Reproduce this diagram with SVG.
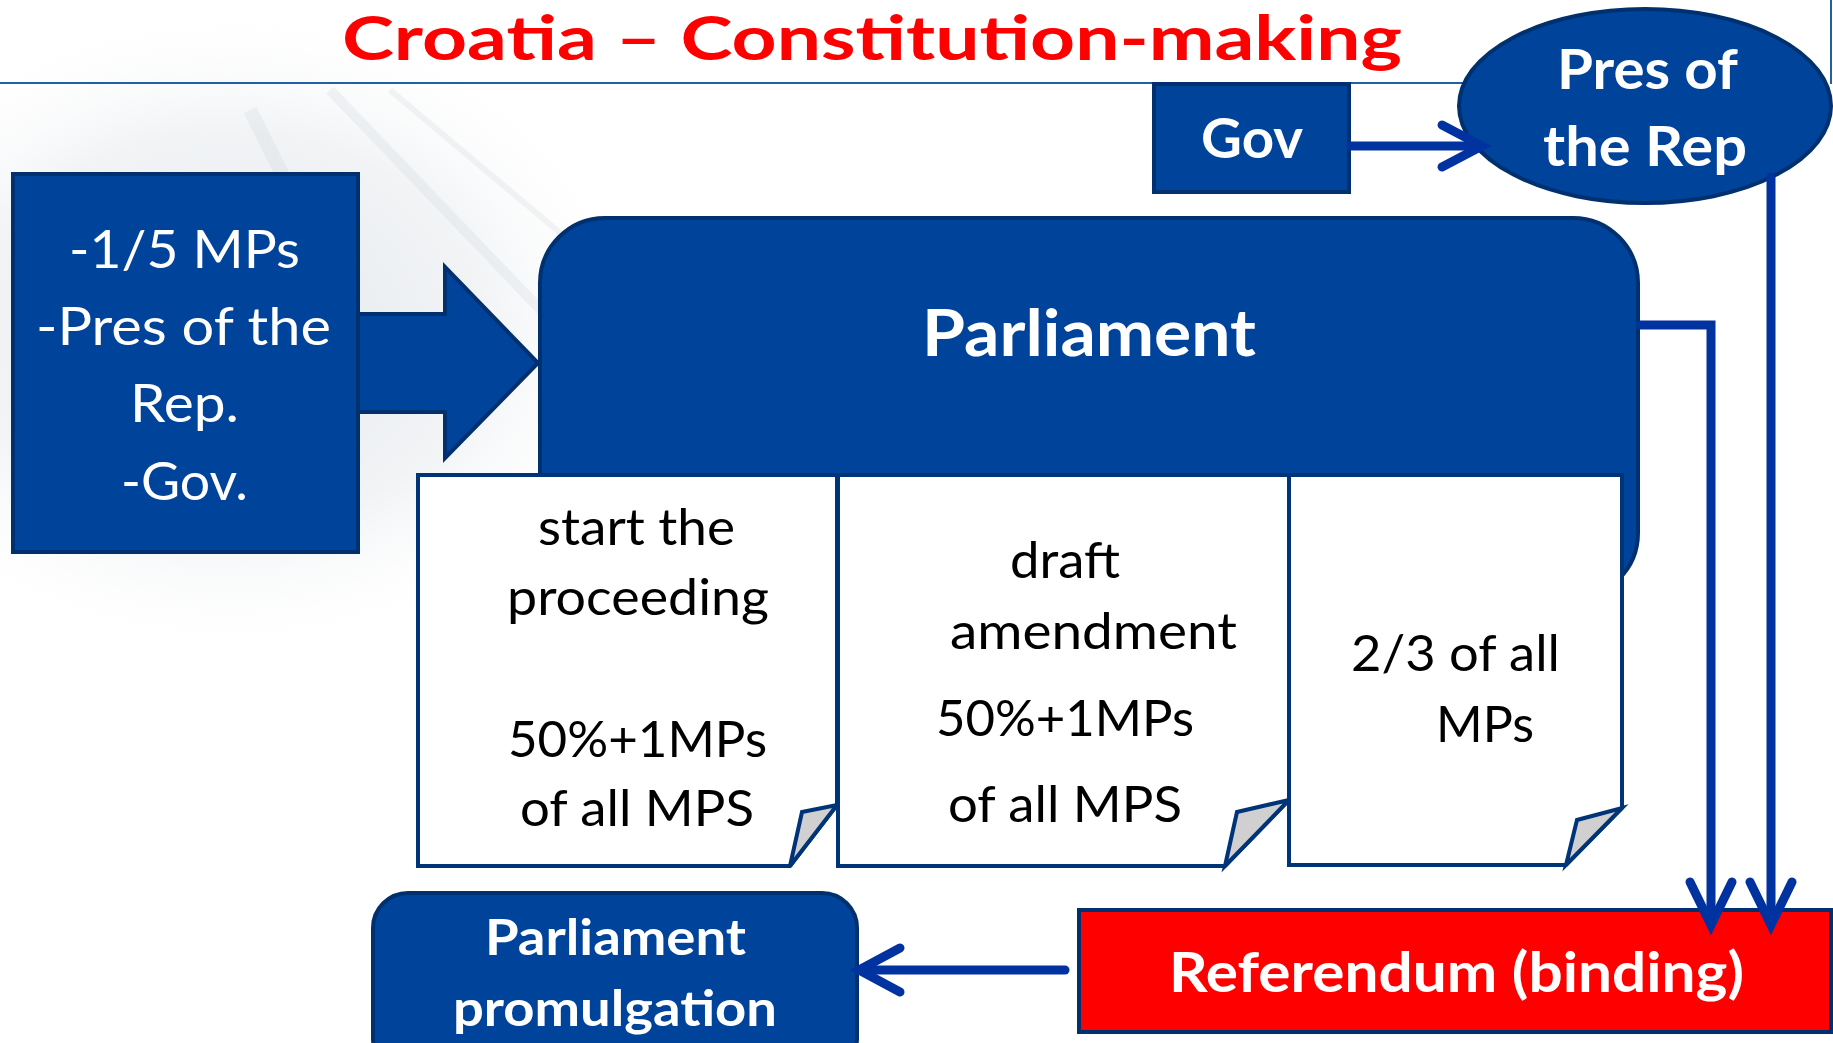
<svg xmlns="http://www.w3.org/2000/svg" width="1833" height="1043" viewBox="0 0 1833 1043">
<defs>
<radialGradient id="bg" cx="0.5" cy="0.5" r="0.5">
<stop offset="0" stop-color="#e6eaee"/>
<stop offset="0.6" stop-color="#f1f3f5"/>
<stop offset="1" stop-color="#ffffff" stop-opacity="0"/>
</radialGradient>
</defs>
<style>
.blue{fill:#00439a;stroke:#00306e;stroke-width:4}
.card{fill:#ffffff;stroke:#003478;stroke-width:4;stroke-linejoin:miter}
.fold{fill:#d0d0d0;stroke:#003478;stroke-width:4;stroke-linejoin:miter}
.conn{fill:none;stroke:#0033a0;stroke-width:9;stroke-linecap:round;stroke-linejoin:miter}
.w{fill:#ffffff;font-family:Lato,"Open Sans",sans-serif;text-anchor:start}
.k{fill:#000000;font-family:Lato,"Open Sans",sans-serif;text-anchor:start}
.b{font-weight:bold}
</style>
<rect x="0" y="0" width="1833" height="1043" fill="#ffffff"/>
<ellipse cx="230" cy="330" rx="420" ry="330" fill="url(#bg)"/>
<g opacity="0.22" stroke="#c8d0d8" fill="none">
<path d="M330,90 L560,330" stroke-width="10"/>
<path d="M390,90 L640,300" stroke-width="6"/>
<path d="M250,110 L360,330" stroke-width="14"/>
</g>
<g id="title">
<text class="b" x="342" y="60" font-size="62" fill="#ff0000" font-family="Lato,'Open Sans',sans-serif" textLength="1060" lengthAdjust="spacingAndGlyphs">Croatia – Constitution-making</text>
<line x1="0" y1="83" x2="1470" y2="83" stroke="#2060a8" stroke-width="2"/>
<line x1="1831" y1="0" x2="1831" y2="84" stroke="#2060a8" stroke-width="2"/>
</g>
<g id="initiators">
<polygon class="blue" points="350,314 445,314 445,267 538,363 445,458 445,412 350,412" stroke-width="3"/>
<rect class="blue" x="13" y="174" width="345" height="378" stroke-width="3"/>
<text class="w" font-size="53" x="69" y="268" textLength="231" lengthAdjust="spacingAndGlyphs">-1/5 MPs</text>
<text class="w" font-size="53" x="36" y="345" textLength="295" lengthAdjust="spacingAndGlyphs">-Pres of the</text>
<text class="w" font-size="53" x="130" y="422" textLength="109" lengthAdjust="spacingAndGlyphs">Rep.</text>
<text class="w" font-size="53" x="121" y="500" textLength="127" lengthAdjust="spacingAndGlyphs">-Gov.</text>
</g>
<g id="parliament">
<rect class="blue" x="540" y="218" width="1098" height="380" rx="65" ry="65"/>
<text class="w b" font-size="65" x="922" y="356" textLength="334" lengthAdjust="spacingAndGlyphs">Parliament</text>
</g>
<g id="card1">
<path class="card" d="M418,475 L837,475 L837,805 L790,866 L418,866 Z"/>
<path class="fold" d="M790,866 L802,812 L837,805 Z"/>
<text class="k" font-size="51" x="538" y="545" textLength="197" lengthAdjust="spacingAndGlyphs">start the</text>
<text class="k" font-size="51" x="507" y="615" textLength="262" lengthAdjust="spacingAndGlyphs">proceeding</text>
<text class="k" font-size="51" x="508" y="757" textLength="259" lengthAdjust="spacingAndGlyphs">50%+1MPs</text>
<text class="k" font-size="51" x="520" y="826" textLength="234" lengthAdjust="spacingAndGlyphs">of all MPS</text>
</g>
<g id="card2">
<path class="card" d="M838,475 L1289,475 L1289,800 L1225,866 L838,866 Z"/>
<path class="fold" d="M1225,866 L1237,812 L1289,800 Z"/>
<text class="k" font-size="51" x="1010" y="578" textLength="110" lengthAdjust="spacingAndGlyphs">draft</text>
<text class="k" font-size="51" x="950" y="649" textLength="287" lengthAdjust="spacingAndGlyphs">amendment</text>
<text class="k" font-size="51" x="936" y="736" textLength="258" lengthAdjust="spacingAndGlyphs">50%+1MPs</text>
<text class="k" font-size="51" x="948" y="822" textLength="234" lengthAdjust="spacingAndGlyphs">of all MPS</text>
</g>
<g id="card3">
<path class="card" d="M1289,475 L1622,475 L1622,808 L1566,865 L1289,865 Z"/>
<path class="fold" d="M1566,865 L1577,820 L1622,808 Z"/>
<text class="k" font-size="51" x="1351" y="671" textLength="209" lengthAdjust="spacingAndGlyphs">2/3 of all</text>
<text class="k" font-size="51" x="1436" y="742" textLength="98" lengthAdjust="spacingAndGlyphs">MPs</text>
</g>
<g id="gov">
<rect class="blue" x="1154" y="84" width="195" height="108"/>
<text class="w b" font-size="56" x="1201" y="158" textLength="102" lengthAdjust="spacingAndGlyphs">Gov</text>
</g>
<g id="president">
<ellipse class="blue" cx="1645" cy="106" rx="186" ry="97"/>
<text class="w b" font-size="56" x="1557" y="89" textLength="181" lengthAdjust="spacingAndGlyphs">Pres of</text>
<text class="w b" font-size="56" x="1543" y="166" textLength="204" lengthAdjust="spacingAndGlyphs">the Rep</text>
</g>
<g id="referendum">
<rect x="1079" y="910" width="752" height="122" fill="#ff0000" stroke="#00306e" stroke-width="4"/>
<text class="w b" font-size="56" x="1169" y="992" textLength="575" lengthAdjust="spacingAndGlyphs">Referendum (binding)</text>
</g>
<g id="promulgation">
<rect class="blue" x="373" y="893" width="484" height="180" rx="35" ry="35"/>
<text class="w b" font-size="49" x="485" y="955" textLength="261" lengthAdjust="spacingAndGlyphs">Parliament</text>
<text class="w b" font-size="49" x="453" y="1026" textLength="324" lengthAdjust="spacingAndGlyphs">promulgation</text>
</g>
<g id="connectors">
<path class="conn" d="M1351,146 L1480,146"/>
<path class="conn" d="M1442,125 L1482,146 L1442,167"/>
<path class="conn" d="M1771,177 L1771,922" stroke-linecap="butt"/>
<path class="conn" d="M1750,882 L1771,925 L1792,882"/>
<path class="conn" d="M1640,325 L1711,325 L1711,922" stroke-linecap="butt"/>
<path class="conn" d="M1690,882 L1711,925 L1732,882"/>
<path class="conn" d="M1065,970 L862,970" stroke-linecap="butt"/>
<path class="conn" d="M900,948 L859,970 L900,992"/>
</g>
</svg>
